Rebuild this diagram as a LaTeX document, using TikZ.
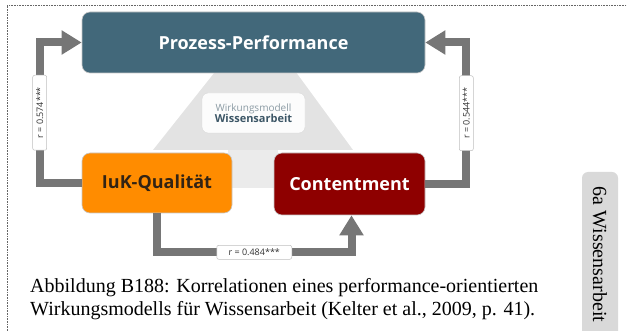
\documentclass[tikz,border=0pt]{standalone}
\usepackage{fontspec}
\setmainfont{Liberation Serif}
\newfontfamily\diafont{Open Sans}
\usetikzlibrary{arrows.meta,positioning,calc}
\definecolor{PPBlue}{RGB}{66,104,122}
\definecolor{IuKOrange}{RGB}{255,140,0}
\definecolor{ContRed}{RGB}{142,0,0}
\definecolor{ArrGray}{RGB}{118,118,118}
\definecolor{IuKText}{RGB}{50,35,20}
\definecolor{ModelBlue}{RGB}{60,86,102}

\begin{document}
\begin{tikzpicture}[x=1pt, y=-1pt, font=\diafont]
  \tikzset{
    b/.style={rounded corners=8pt, draw=black!22, line width=0.6pt, inner sep=0pt,
      font=\diafont\fontsize{18}{20}\selectfont\bfseries},
    arr/.style={-{Triangle[length=20pt,width=23pt]}, line width=8pt, draw=ArrGray},
    lbl/.style={rounded corners=2pt, draw=black!25, line width=0.5pt, fill=white, inner sep=1pt,
      minimum width=75pt, minimum height=14pt, font=\diafont\fontsize{9}{10}\selectfont, text=black!80},
    tab/.style={rounded corners=6pt, fill=black!15, minimum width=165pt, minimum height=36pt,
      font=\fontsize{20}{22}\selectfont}
  }
  \useasboundingbox (0,0) rectangle (627,331);
  % frame
  \draw[black!60, densely dotted, line width=0.6pt] (7,331) -- (7,5) -- (627,5);

  % faded backdrop behind the model
  \fill[black!11] (257,19) -- (353,150) -- (153,150) -- cycle;
  \fill[black!8] (228,150) rectangle (278,188);

  \node[b, fill=PPBlue, text=white, minimum width=343pt, minimum height=61pt] (pp) at (253.5,42.5) {Prozess-Performance};
  \node[b, fill=IuKOrange, text=IuKText, minimum width=150pt, minimum height=60pt] (iuk) at (157,183) {IuK-Qualität};
  \node[b, fill=ContRed, text=white, minimum width=151pt, minimum height=62pt] (cont) at (349.5,184) {Contentment};

  \node[rounded corners=6pt, draw=black!15, fill=white, fill opacity=0.9, text opacity=1,
    minimum width=103pt, minimum height=40pt, align=center, inner sep=0pt] (wm) at (253.5,113)
    {{\fontsize{10}{12}\selectfont\color{ModelBlue!60}Wirkungsmodell}\\[-1pt]
     {\fontsize{11}{13}\selectfont\bfseries\color{ModelBlue}Wissensarbeit}};

  \draw[arr] (iuk.west) -- ++(-42,0) |- (pp.west) node[lbl, rotate=90, pos=0.25] {r = 0.574***};
  \draw[arr] (cont.east) -- ++(41,0) |- (pp.east) node[lbl, rotate=90, pos=0.25] {r = 0.544***};
  \draw[arr] (iuk.south) -- ++(0,39) -| ([xshift=2pt]cont.south) node[lbl, pos=0.25] {r = 0.484***};

  \node[anchor=north west, align=left, inner sep=0pt, font=\rmfamily\fontsize{20}{23}\selectfont] (cap) at (30,278)
    {Abbildung B188: Korrelationen eines performance-orientierten\\
     Wirkungsmodells für Wissensarbeit (Kelter et al., 2009, p. 41).};
  \node[tab, rotate=-90] (side) at (600,254.5) {6a Wissensarbeit};
\end{tikzpicture}
\end{document}
